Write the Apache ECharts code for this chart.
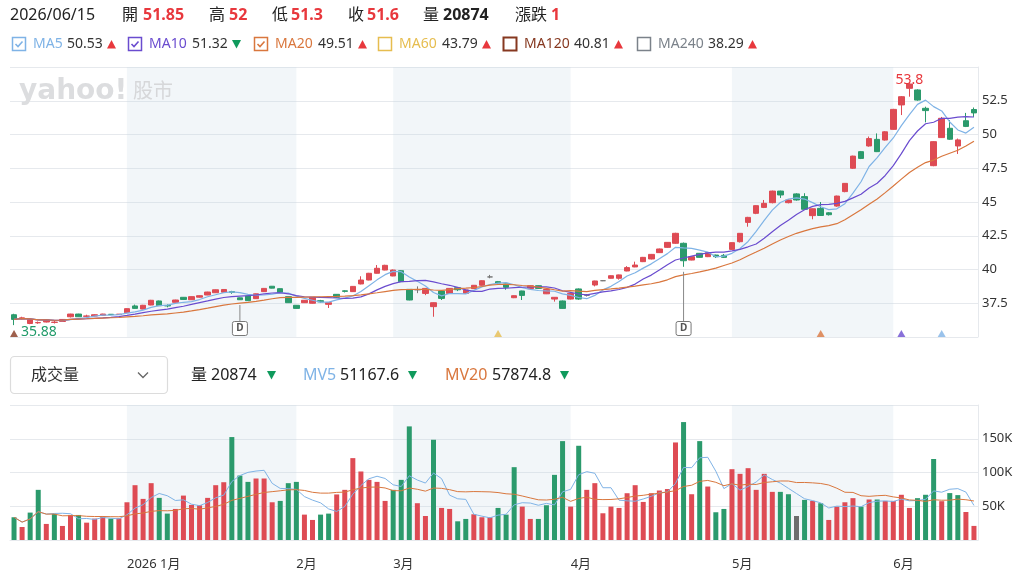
<!DOCTYPE html>
<html lang="zh-Hant">
<head>
<meta charset="UTF-8">
<title>K線圖</title>
<script src="https://cdn.jsdelivr.net/npm/echarts@6.0.0/dist/echarts.min.js"></script>
<style>
  html, body { margin: 0; padding: 0; background: #fff; }
  #main { width: 1022px; height: 579px; }
</style>
</head>
<body>
<div id="main"></div>
<script>
// trading days shown, per month
var tradingDays = [
  [2025, 12, [12, 15, 16, 17, 18, 19, 22, 23, 24, 25, 26, 29, 30, 31]],
  [2026, 1, [2, 5, 6, 7, 8, 9, 12, 13, 14, 15, 16, 19, 20, 21, 22, 23, 26, 27, 28, 29, 30]],
  [2026, 2, [2, 3, 4, 5, 6, 9, 10, 11, 23, 24, 25, 26]],
  [2026, 3, [2, 3, 4, 5, 6, 9, 10, 11, 12, 13, 16, 17, 18, 19, 20, 23, 24, 25, 26, 27, 30, 31]],
  [2026, 4, [1, 2, 7, 8, 9, 10, 13, 14, 15, 16, 17, 20, 21, 22, 23, 24, 27, 28, 29, 30]],
  [2026, 5, [4, 5, 6, 7, 8, 11, 12, 13, 14, 15, 18, 19, 20, 21, 22, 25, 26, 27, 28, 29]],
  [2026, 6, [1, 2, 3, 4, 5, 8, 9, 10, 11, 12, 15]]
];

var open = [
  36.65, 36.35, 36.00, 36.05, 36.11, 36.08, 36.15, 36.50, 36.70, 36.53,
  36.55, 36.60, 36.68, 36.67, 36.80, 37.30, 37.07, 37.37, 37.67, 37.34,
  37.57, 37.94, 37.76, 37.95, 38.11, 38.28, 38.32, 38.36, 37.90, 38.04,
  37.84, 38.36, 38.76, 38.58, 37.99, 37.35, 37.54, 37.50, 37.69, 37.42,
  38.16, 38.42, 38.36, 38.93, 39.22, 39.72, 39.96, 39.52, 39.91, 38.53,
  38.50, 38.23, 37.25, 38.40, 38.23, 38.65, 38.23, 38.58, 38.83, 39.45,
  39.10, 38.93, 37.91, 38.41, 38.58, 38.80, 38.20, 37.81, 37.67, 37.81,
  38.56, 38.09, 38.85, 39.17, 39.35, 39.35, 39.89, 40.19, 40.58, 40.78,
  41.25, 41.64, 41.94, 41.94, 40.70, 41.20, 40.95, 41.07, 41.05, 41.49,
  42.06, 43.49, 44.16, 44.60, 44.95, 45.81, 44.95, 45.60, 45.40, 43.99,
  44.53, 44.20, 44.70, 45.77, 47.50, 48.73, 49.15, 49.64, 49.59, 50.38,
  52.19, 53.42, 53.30, 51.94, 47.69, 49.77, 50.46, 49.15, 51.02, 51.85
];
var close = [
  36.30, 36.42, 36.30, 36.07, 36.26, 36.10, 36.30, 36.70, 36.50, 36.56,
  36.65, 36.70, 36.67, 36.69, 37.10, 37.12, 37.35, 37.72, 37.32, 37.30,
  37.74, 37.78, 37.99, 38.06, 38.33, 38.50, 38.52, 38.30, 37.76, 37.69,
  38.20, 38.60, 38.62, 38.28, 37.54, 37.12, 37.72, 37.94, 37.60, 37.54,
  37.94, 38.38, 38.75, 39.22, 39.72, 40.09, 40.31, 39.96, 39.10, 37.74,
  38.50, 38.60, 37.54, 37.86, 38.60, 38.50, 38.48, 38.83, 39.17, 39.45,
  39.00, 38.68, 38.06, 38.08, 38.80, 38.60, 38.52, 37.94, 37.12, 38.23,
  37.81, 38.09, 39.15, 39.17, 39.54, 39.60, 40.14, 40.33, 40.90, 41.12,
  41.52, 42.01, 42.68, 40.65, 40.95, 40.90, 41.25, 40.95, 40.90, 41.99,
  42.68, 43.86, 44.73, 44.90, 45.81, 45.52, 45.15, 45.15, 44.46, 44.50,
  44.00, 44.06, 45.44, 46.38, 48.40, 48.23, 49.70, 48.73, 50.20, 51.86,
  52.80, 53.74, 52.55, 51.77, 49.47, 51.20, 49.65, 49.60, 50.60, 51.60
];
var low = [
  35.88, 36.30, 35.95, 35.98, 36.08, 36.00, 36.12, 36.45, 36.48, 36.45,
  36.52, 36.58, 36.65, 36.65, 36.78, 37.10, 37.05, 37.35, 37.30, 37.20,
  37.55, 37.75, 37.74, 37.92, 38.10, 38.26, 38.30, 38.20, 37.74, 37.67,
  37.82, 38.34, 38.60, 38.26, 37.52, 37.10, 37.52, 37.48, 37.55, 37.15,
  37.90, 38.30, 38.34, 38.90, 39.20, 39.70, 39.94, 39.50, 39.08, 37.72,
  38.25, 38.10, 36.50, 37.74, 38.20, 38.40, 38.20, 38.56, 38.80, 39.35,
  38.95, 38.50, 37.88, 37.74, 38.55, 38.58, 38.18, 37.62, 37.10, 37.78,
  37.75, 38.00, 38.75, 39.14, 39.33, 39.25, 39.87, 40.17, 40.55, 40.75,
  41.22, 41.60, 41.90, 40.20, 40.68, 40.88, 40.92, 40.85, 40.85, 41.45,
  42.00, 43.17, 44.10, 44.55, 44.90, 45.30, 44.90, 45.10, 44.44, 43.72,
  43.98, 44.00, 44.65, 45.72, 47.45, 48.18, 49.10, 48.70, 49.55, 50.35,
  51.44, 52.80, 52.50, 50.90, 47.65, 49.75, 49.60, 48.56, 50.55, 51.30
];
var high = [
  36.72, 36.50, 36.32, 36.15, 36.30, 36.18, 36.33, 36.72, 36.72, 36.65,
  36.68, 36.72, 36.70, 36.70, 37.12, 37.40, 37.38, 37.75, 37.70, 37.42,
  37.76, 37.96, 38.00, 38.08, 38.35, 38.52, 38.55, 38.42, 37.92, 38.06,
  38.22, 38.63, 38.78, 38.60, 38.00, 37.37, 37.74, 37.96, 37.75, 37.56,
  38.18, 38.46, 38.77, 39.50, 39.75, 40.33, 40.35, 40.00, 39.95, 38.55,
  38.75, 38.62, 37.56, 38.42, 38.62, 38.67, 38.50, 38.85, 39.20, 39.60,
  39.15, 38.95, 38.08, 38.43, 38.82, 38.82, 38.55, 37.96, 37.70, 38.26,
  38.60, 38.18, 39.17, 39.20, 39.56, 39.62, 40.25, 40.58, 40.93, 41.15,
  41.55, 42.03, 42.72, 42.00, 40.98, 41.22, 41.30, 41.10, 41.15, 42.00,
  42.70, 43.90, 44.76, 45.15, 45.84, 45.84, 45.18, 45.65, 45.65, 44.52,
  45.00, 44.25, 45.47, 46.40, 48.43, 48.78, 49.85, 50.08, 50.25, 51.90,
  52.85, 53.80, 53.35, 52.06, 49.50, 51.30, 51.07, 49.70, 51.60, 52.00
];
// close of the day before the first bar (estimated)
var prevClose = 36.45;

var volume = [
  33700, 19300, 40600, 74300, 23800, 38600, 20800, 37100, 37100, 25700,
  31700, 35100, 31700, 32200, 55900, 81200, 60900, 84200, 62400, 39100,
  46000, 65800, 52000, 51500, 62400, 81200, 85600, 152500, 95500, 86100,
  91100, 91100, 55900, 57900, 84200, 86100, 37600, 29700, 37600, 39100,
  67500, 74300, 121300, 101500, 89100, 86100, 57900, 74300, 89100, 168300,
  54500, 35600, 148500, 47500, 46000, 27700, 31200, 38100, 33700, 33700,
  47500, 37600, 107900, 49500, 31200, 31200, 51500, 96500, 146500, 49500,
  139600, 74300, 84200, 39600, 49500, 47500, 69300, 81200, 56400, 69300,
  73300, 75500, 144500, 174700, 67800, 146500, 79200, 41100, 46000, 104900,
  98000, 106400, 74300, 98000, 71300, 71300, 67800, 35600, 59400, 57900,
  54500, 29700, 49500, 55900, 62000, 49500, 60000, 60000, 57900, 57900,
  67000, 47500, 62000, 67000, 120000, 57500, 69500, 66500, 41500, 20874
];

// ex-dividend days ("D") and MA signal triangles
var dividendIdx = [28, 83];
var signalIdx = [0, 60, 100, 110, 115];
var signalMA = ['MA120', 'MA60', 'MA20', 'MA10', 'MA5'];

// legend texts as shown
var maNames = ['MA5', 'MA10', 'MA20', 'MA60', 'MA120', 'MA240'];
var maValues = ['50.53', '51.32', '49.51', '43.79', '40.81', '38.29'];
var maUp = [true, false, true, true, true, true];
var maChecked = [true, true, true, false, false, false];
var mvNames = ['MV5', 'MV20'];
var mvValues = ['51167.6', '57874.8'];

var FONT = '"Noto Sans", "Noto Sans CJK TC", sans-serif';
var RED = '#e8383d', GREEN = '#0f9a5c';
var UP = '#de4b54', DOWN = '#2b9a6c', FLAT = '#6d6d6d';
var BAND = 'rgba(196, 212, 228, 0.22)', GRIDLINE = '#e6e9ed';
var maColors = {
  MA5: '#7fb3e6', MA10: '#6a4ccf', MA20: '#d9773e', MA60: '#e6bd4f',
  MA120: '#863820', MA240: '#7b828a', MV5: '#7fb3e6', MV20: '#d9773e'
};

function pad(n) { return n < 10 ? '0' + n : '' + n; }
var dates = [];
tradingDays.forEach(function (m) {
  m[2].forEach(function (d) { dates.push(m[0] + '/' + pad(m[1]) + '/' + pad(d)); });
});
var monthStart = {};
dates.forEach(function (d, i) {
  if (i > 0 && d.slice(0, 7) !== dates[i - 1].slice(0, 7)) monthStart[i] = true;
});
var starts = Object.keys(monthStart).map(Number);
// shade Jan, Mar, May
var bandIdx = [[starts[0], starts[1]], [starts[2], starts[3]], [starts[4], starts[5]]];

function movingAvg(vals, n) {
  return vals.map(function (v, i) {
    var s = 0, c = 0;
    for (var k = Math.max(0, i - n + 1); k <= i; k++) { s += vals[k]; c++; }
    return +(s / c).toFixed(3);
  });
}

var candles = dates.map(function (d, i) { return [open[i], close[i], low[i], high[i]]; });
var volBars = volume.map(function (v, i) {
  var pc = i === 0 ? prevClose : close[i - 1];
  var c = close[i] > pc ? UP : (close[i] < pc ? DOWN : FLAT);
  return { value: v, itemStyle: { color: c } };
});

var hiIdx = high.indexOf(Math.max.apply(null, high));
var loIdx = low.indexOf(Math.min.apply(null, low));

// ---- header graphics ----
var g = [];
function txt(x, y, s, size, color, weight) {
  g.push({
    type: 'text', x: x, y: y, silent: true,
    style: { text: s, fontSize: size, fontFamily: FONT, fontWeight: weight || 'normal', fill: color, verticalAlign: 'middle' }
  });
}
function tri(x, y, up, color) {
  var pts = up ? [[x, y + 4.5], [x + 4.5, y - 4], [x + 9, y + 4.5]] : [[x, y - 4], [x + 9, y - 4], [x + 4.5, y + 4.5]];
  g.push({ type: 'polygon', silent: true, shape: { points: pts }, style: { fill: color } });
}

var last = dates.length - 1;
txt(10, 15, dates[last], 16, '#222');
txt(122, 15, '開', 16, '#222'); txt(143, 15, String(open[last]), 16, RED, 'bold');
txt(209, 15, '高', 16, '#222'); txt(229, 15, String(high[last]), 16, RED, 'bold');
txt(272, 15, '低', 16, '#222'); txt(291, 15, String(low[last]), 16, RED, 'bold');
txt(348, 15, '收', 16, '#222'); txt(367, 15, String(close[last]), 16, RED, 'bold');
txt(423, 15, '量', 16, '#222'); txt(443, 15, String(volume[last]), 16, '#222', 'bold');
txt(515, 15, '漲跌', 16, '#222');
txt(551, 15, String(Math.round((close[last] - close[last - 1]) * 100) / 100), 16, RED, 'bold');

var legendX = [12, 128, 254, 378, 503, 637];
maNames.forEach(function (n, k) {
  var x = legendX[k], col = maColors[n];
  g.push({ type: 'rect', silent: true, shape: { x: x + 0.5, y: 37.5, width: 13, height: 13 },
    style: { fill: '#fff', stroke: col, lineWidth: k === 4 ? 2 : 1.5 } });
  if (maChecked[k]) {
    g.push({ type: 'polyline', silent: true, shape: { points: [[x + 3.5, 44], [x + 6, 46.5], [x + 10.5, 41.5]] },
      style: { stroke: col, lineWidth: 1.6, fill: null } });
  }
  var w = n.length === 3 ? 28 : (n.length === 4 ? 37 : 44);
  txt(x + 21, 44, n, 14, col);
  txt(x + 27 + w, 44, maValues[k], 14, '#333');
  tri(x + 27 + w + 40, 44, maUp[k], maUp[k] ? RED : GREEN);
});

// volume header
g.push({ type: 'rect', silent: true, shape: { x: 10.5, y: 356.5, width: 157, height: 37, r: 4 },
  style: { fill: '#fff', stroke: '#dcdcdc', lineWidth: 1.2 } });
txt(31, 375, '成交量', 16, '#333');
g.push({ type: 'polyline', silent: true, shape: { points: [[138, 372.5], [143, 377.5], [148, 372.5]] },
  style: { stroke: '#666', lineWidth: 1.3, fill: null } });
txt(191, 375, '量', 16, '#222'); txt(211, 375, String(volume[last]), 16, '#222'); tri(267, 375, false, GREEN);
txt(303, 375, mvNames[0], 16, maColors.MV5); txt(340, 375, mvValues[0], 16, '#222'); tri(408, 375, false, GREEN);
txt(445, 375, mvNames[1], 16, maColors.MV20); txt(492, 375, mvValues[1], 16, '#222'); tri(560, 375, false, GREEN);

// watermark
g.push({ type: 'text', x: 19, y: 92, silent: true, z: 5,
  style: { text: 'yahoo!', fontSize: 28, fontWeight: 'bold', fontFamily: '"DejaVu Sans", sans-serif', fill: '#dcdddf', verticalAlign: 'middle' } });
g.push({ type: 'text', x: 133, y: 92, silent: true, z: 5,
  style: { text: '股市', fontSize: 20, fontFamily: FONT, fill: '#d6d7d9', verticalAlign: 'middle' } });

function bandSeries(axisIdx) {
  return {
    type: 'custom', xAxisIndex: axisIdx, yAxisIndex: axisIdx, silent: true, z: 1,
    encode: { x: [0, 1] },
    data: bandIdx,
    renderItem: function (params, api) {
      var s = api.coord([api.value(0), 0]);
      var e = api.coord([api.value(1), 0]);
      var cs = params.coordSys;
      return { type: 'rect', shape: { x: s[0], y: cs.y, width: e[0] - s[0], height: cs.height }, style: { fill: BAND } };
    }
  };
}

var chart = echarts.init(document.getElementById('main'));

var option = {
  animation: false,
  backgroundColor: '#fff',
  textStyle: { fontFamily: FONT },
  graphic: g,
  grid: [
    { left: 10, right: 44, top: 67, height: 270 },
    { left: 10, right: 44, top: 405, height: 135 }
  ],
  xAxis: [
    { type: 'category', gridIndex: 0, data: dates, boundaryGap: true,
      axisLine: { show: false }, axisTick: { show: false }, axisLabel: { show: false }, splitLine: { show: false } },
    { type: 'category', gridIndex: 1, data: dates, boundaryGap: true,
      axisLine: { show: true, lineStyle: { color: GRIDLINE } }, axisTick: { show: false }, splitLine: { show: false },
      axisLabel: {
        interval: function (i) { return !!monthStart[i]; },
        formatter: function (v) {
          var m = parseInt(v.slice(5, 7), 10);
          return m === 1 ? v.slice(0, 4) + ' 1月' : m + '月';
        },
        align: 'left', margin: 18, fontSize: 13, color: '#333', fontFamily: FONT
      } }
  ],
  yAxis: [
    { type: 'value', gridIndex: 0, position: 'right', min: 35, max: 55, interval: 2.5,
      axisLine: { show: true, lineStyle: { color: GRIDLINE } }, axisTick: { show: false },
      splitLine: { lineStyle: { color: GRIDLINE } },
      axisLabel: { showMinLabel: false, showMaxLabel: false, margin: 4, fontSize: 13, color: '#333', fontFamily: FONT } },
    { type: 'value', gridIndex: 1, position: 'right', min: 0, max: 200000, interval: 50000,
      axisLine: { show: true, lineStyle: { color: GRIDLINE } }, axisTick: { show: false },
      splitLine: { lineStyle: { color: GRIDLINE } },
      axisLabel: { showMinLabel: false, showMaxLabel: false, margin: 4, fontSize: 13, color: '#333', fontFamily: FONT,
        formatter: function (v) { return v / 1000 + 'K'; } } }
  ],
  series: [
    bandSeries(0),
    bandSeries(1),
    { type: 'candlestick', name: 'K', xAxisIndex: 0, yAxisIndex: 0, data: candles, barWidth: 6,
      itemStyle: { color: UP, color0: DOWN, borderColor: UP, borderColor0: DOWN, borderColorDoji: '#777', borderWidth: 1 },
      markPoint: {
        silent: true, symbol: 'circle', symbolSize: 0.1,
        data: [
          { coord: [dates[hiIdx], high[hiIdx]], itemStyle: { color: 'rgba(0,0,0,0)' },
            label: { show: true, formatter: String(high[hiIdx]), position: 'inside', offset: [0, -3], color: RED, fontSize: 14, fontFamily: FONT } },
          { coord: [dates[loIdx], low[loIdx]], itemStyle: { color: 'rgba(0,0,0,0)' },
            label: { show: true, formatter: String(low[loIdx]), position: 'inside', align: 'left', offset: [7, 7], color: '#1f9a69', fontSize: 14, fontFamily: FONT } }
        ]
      } },
    { type: 'line', name: 'MA5', xAxisIndex: 0, yAxisIndex: 0, data: movingAvg(close, 5), symbol: 'none',
      lineStyle: { width: 1.2, color: maColors.MA5 }, z: 3 },
    { type: 'line', name: 'MA10', xAxisIndex: 0, yAxisIndex: 0, data: movingAvg(close, 10), symbol: 'none',
      lineStyle: { width: 1.2, color: maColors.MA10 }, z: 3 },
    { type: 'line', name: 'MA20', xAxisIndex: 0, yAxisIndex: 0, data: movingAvg(close, 20), symbol: 'none',
      lineStyle: { width: 1.2, color: maColors.MA20 }, z: 3 },
    { type: 'scatter', name: 'signal', xAxisIndex: 0, yAxisIndex: 0, symbol: 'triangle', symbolSize: [8, 7],
      symbolOffset: [0, -3.5], silent: true, z: 4,
      data: signalIdx.map(function (i, k) {
        return { value: [dates[i], 35], itemStyle: { color: maColors[signalMA[k]] } };
      }) },
    { type: 'custom', name: 'D', xAxisIndex: 0, yAxisIndex: 0, silent: true, z: 4,
      data: dividendIdx.map(function (i) { return [i, low[i]]; }),
      renderItem: function (params, api) {
        var p = api.coord([api.value(0), api.value(1)]);
        var b = api.coord([api.value(0), 35]);
        return { type: 'group', children: [
          { type: 'line', shape: { x1: p[0], y1: p[1] + 5, x2: p[0], y2: b[1] - 16 }, style: { stroke: '#888', lineWidth: 1 } },
          { type: 'rect', shape: { x: p[0] - 7.5, y: b[1] - 15.5, width: 15, height: 14, r: 2 }, style: { fill: '#fff', stroke: '#777', lineWidth: 1 } },
          { type: 'text', style: { x: p[0], y: b[1] - 8.5, text: 'D', align: 'center', verticalAlign: 'middle', fontSize: 10, fontWeight: 'bold', fontFamily: FONT, fill: '#555' } }
        ] };
      } },
    { type: 'bar', name: '量', xAxisIndex: 1, yAxisIndex: 1, data: volBars, barWidth: 5 },
    { type: 'line', name: 'MV5', xAxisIndex: 1, yAxisIndex: 1, data: movingAvg(volume, 5), symbol: 'none',
      lineStyle: { width: 1, color: maColors.MV5 }, z: 3 },
    { type: 'line', name: 'MV20', xAxisIndex: 1, yAxisIndex: 1, data: movingAvg(volume, 20), symbol: 'none',
      lineStyle: { width: 1, color: maColors.MV20 }, z: 3 }
  ]
};
chart.setOption(option);
</script>
</body>
</html>
